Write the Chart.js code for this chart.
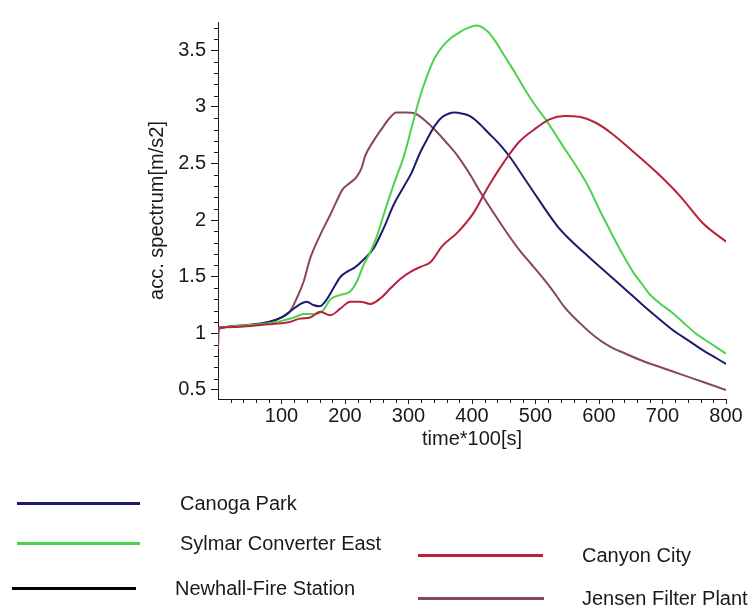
<!DOCTYPE html>
<html>
<head>
<meta charset="utf-8">
<script src="https://cdn.jsdelivr.net/npm/chart.js@4.4.1/dist/chart.umd.min.js"></script>
<style>
    html, body { margin: 0; padding: 0; background: #fff; }
    #wrap { position: relative; width: 751px; height: 609px; }
    #spectrumChart { position: absolute; left: 0; top: 0; }
    .legend-line { position: absolute; height: 3px; }
    .legend-text { position: absolute; font: 20px "Liberation Sans", Arial, sans-serif; color: #1a1a1a; white-space: nowrap; line-height: 24px; }
</style>
</head>
<body>
<div id="wrap">
    <canvas id="spectrumChart" width="751" height="609"></canvas>
    <div id="legend"></div>
</div>
<script>
// Station names and colours
var stations = ['Canoga Park', 'Sylmar Converter East', 'Newhall-Fire Station', 'Canyon City', 'Jensen Filter Plant'];
var stationColors = ['#1c1c6c', '#4cd24c', '#000000', '#b8203c', '#87475a'];

// Axis ticks
var xTicks = [100, 200, 300, 400, 500, 600, 700, 800];
var yTicks = [0.5, 1, 1.5, 2, 2.5, 3, 3.5];

// Canoga Park
var canogaX = [0, 40, 80, 100, 115, 130, 140, 150, 160, 170, 182, 193, 205, 215, 229, 245, 261, 277, 292, 305, 317, 329, 341, 353, 363, 372, 385, 396, 410, 426, 445, 462, 480, 498, 516, 534, 552, 571, 595, 619, 643, 667, 692, 716, 740, 764, 782, 800];
var canogaY = [1.05, 1.07, 1.10, 1.14, 1.20, 1.26, 1.28, 1.25, 1.24, 1.29, 1.40, 1.50, 1.55, 1.58, 1.65, 1.75, 1.93, 2.14, 2.29, 2.42, 2.58, 2.71, 2.83, 2.91, 2.94, 2.95, 2.94, 2.92, 2.86, 2.77, 2.66, 2.54, 2.39, 2.24, 2.09, 1.95, 1.84, 1.74, 1.62, 1.50, 1.38, 1.26, 1.14, 1.03, 0.94, 0.85, 0.79, 0.73];

// Sylmar Converter East
var sylmarX = [0, 40, 80, 100, 120, 135, 150, 165, 177, 193, 208, 219, 229, 240, 251, 261, 277, 293, 305, 317, 329, 341, 353, 365, 378, 390, 408, 426, 438, 450, 468, 486, 500, 516, 530, 546, 565, 583, 600, 619, 637, 655, 667, 679, 697, 716, 734, 752, 776, 800];
var sylmarY = [1.05, 1.07, 1.09, 1.11, 1.14, 1.17, 1.17, 1.20, 1.30, 1.34, 1.37, 1.46, 1.60, 1.72, 1.87, 2.05, 2.32, 2.57, 2.82, 3.07, 3.27, 3.43, 3.53, 3.60, 3.65, 3.69, 3.72, 3.66, 3.57, 3.46, 3.30, 3.13, 3.01, 2.89, 2.77, 2.63, 2.47, 2.30, 2.10, 1.89, 1.70, 1.53, 1.44, 1.35, 1.26, 1.18, 1.09, 1.00, 0.91, 0.82];

// Newhall-Fire Station (legend only)
var newhallX = [];
var newhallY = [];

// Canyon City
var canyonX = [0, 40, 80, 100, 113, 129, 145, 161, 177, 193, 208, 224, 240, 256, 272, 287, 305, 320, 335, 353, 377, 402, 426, 450, 474, 498, 522, 546, 571, 595, 619, 655, 691, 728, 764, 800];
var canyonY = [1.05, 1.06, 1.08, 1.09, 1.10, 1.13, 1.14, 1.19, 1.16, 1.22, 1.28, 1.28, 1.26, 1.31, 1.40, 1.48, 1.55, 1.59, 1.63, 1.77, 1.89, 2.06, 2.30, 2.51, 2.69, 2.80, 2.89, 2.92, 2.91, 2.86, 2.77, 2.60, 2.42, 2.21, 1.97, 1.81];

// Jensen Filter Plant
var jensenX = [0, 1.5, 40, 80, 100, 113, 124, 135, 145, 161, 177, 187, 196, 208, 218, 226, 232, 245, 257, 270, 281, 296, 311, 326, 341, 359, 377, 395, 414, 438, 456, 474, 492, 510, 528, 546, 570, 594, 618, 642, 667, 697, 728, 764, 800];
var jensenY = [0.86, 1.04, 1.07, 1.10, 1.14, 1.19, 1.31, 1.46, 1.66, 1.87, 2.05, 2.17, 2.27, 2.33, 2.38, 2.46, 2.57, 2.70, 2.80, 2.90, 2.95, 2.95, 2.94, 2.88, 2.80, 2.69, 2.57, 2.42, 2.24, 2.03, 1.88, 1.74, 1.62, 1.50, 1.37, 1.23, 1.09, 0.97, 0.88, 0.82, 0.76, 0.70, 0.64, 0.57, 0.50];

var seriesX = [canogaX, sylmarX, newhallX, canyonX, jensenX];
var seriesY = [canogaY, sylmarY, newhallY, canyonY, jensenY];

// Legend placement: two columns under the plot
var legendPos = [
    { lineLeft: 17, lineWidth: 123, textLeft: 180, y: 503 },
    { lineLeft: 17, lineWidth: 123, textLeft: 180, y: 543 },
    { lineLeft: 12, lineWidth: 124, textLeft: 175, y: 588 },
    { lineLeft: 418, lineWidth: 125, textLeft: 582, y: 555 },
    { lineLeft: 418, lineWidth: 126, textLeft: 582, y: 598 }
];

var axisColor = '#1a1a1a';
var fontFamily = '"Liberation Sans", Arial, sans-serif';

function toPoints(xs, ys) {
    return xs.map(function (x, i) { return { x: x, y: ys[i] }; });
}

// Short unlabelled ticks between the numbered ones
var minorTicks = {
    id: 'minorTicks',
    afterDraw: function (chart) {
        var ctx = chart.ctx;
        var xs = chart.scales.x, ys = chart.scales.y;
        var area = chart.chartArea;
        ctx.save();
        ctx.strokeStyle = axisColor;
        ctx.lineWidth = 1;
        ctx.beginPath();
        for (var v = 5; v <= 37; v++) {
            if (v % 5 === 0) continue;
            var py = Math.round(ys.getPixelForValue(v / 10)) + 0.5;
            ctx.moveTo(area.left - 4, py);
            ctx.lineTo(area.left, py);
        }
        for (var u = 20; u < 800; u += 20) {
            if (u % 100 === 0) continue;
            var px = Math.round(xs.getPixelForValue(u)) + 0.5;
            ctx.moveTo(px, area.bottom);
            ctx.lineTo(px, area.bottom + 4);
        }
        ctx.stroke();
        ctx.restore();
    }
};

function renderChart() {
    var datasets = stations.map(function (name, i) {
        return {
            label: name,
            data: toPoints(seriesX[i], seriesY[i]),
            borderColor: stationColors[i],
            borderWidth: 2,
            pointRadius: 0,
            fill: false,
            cubicInterpolationMode: 'monotone'
        };
    });
    // draw order: brown under the others, red on top
    var order = [4, 0, 1, 2, 3];
    datasets.forEach(function (ds, i) { ds.order = order.length - order.indexOf(i); });

    return new Chart(document.getElementById('spectrumChart'), {
        type: 'line',
        data: { datasets: datasets },
        options: {
            responsive: false,
            devicePixelRatio: 1,
            animation: false,
            layout: { padding: { top: 22, right: 25, left: 0, bottom: 150 } },
            plugins: { legend: { display: false }, tooltip: { enabled: false } },
            scales: {
                x: {
                    type: 'linear',
                    min: 0,
                    max: 800,
                    afterBuildTicks: function (scale) {
                        scale.ticks = xTicks.map(function (v) { return { value: v }; });
                    },
                    afterFit: function (scale) { scale.height = 60; },
                    border: { display: true, color: axisColor, width: 1 },
                    grid: { drawOnChartArea: false, drawTicks: true, tickLength: 5, color: axisColor },
                    ticks: {
                        color: axisColor, padding: 0, maxRotation: 0,
                        font: { family: fontFamily, size: 20 },
                        callback: function (v) { return String(v); }
                    },
                    title: { display: true, text: 'time*100[s]', color: axisColor, padding: { top: 0, bottom: 8 }, font: { family: fontFamily, size: 20 } }
                },
                y: {
                    min: 0.42,
                    max: 3.75,
                    afterBuildTicks: function (scale) {
                        scale.ticks = yTicks.map(function (v) { return { value: v }; });
                    },
                    afterFit: function (scale) { scale.width = 218; },
                    border: { display: true, color: axisColor, width: 1 },
                    grid: { drawOnChartArea: false, drawTicks: true, tickLength: 7, color: axisColor },
                    ticks: {
                        color: axisColor, padding: 5,
                        font: { family: fontFamily, size: 20 },
                        callback: function (v) { return String(v); }
                    },
                    title: { display: true, text: 'acc. spectrum[m/s2]', color: axisColor, padding: { top: 145, bottom: 0 }, font: { family: fontFamily, size: 20 } }
                }
            }
        },
        plugins: [minorTicks]
    });
}

// Legend built from the chart's datasets
function renderLegend(chart) {
    var box = document.getElementById('legend');
    chart.data.datasets.forEach(function (ds, i) {
        var p = legendPos[i];
        var line = document.createElement('div');
        line.className = 'legend-line';
        line.style.left = p.lineLeft + 'px';
        line.style.width = p.lineWidth + 'px';
        line.style.top = (p.y - 1.5) + 'px';
        line.style.background = ds.borderColor;
        var text = document.createElement('div');
        text.className = 'legend-text';
        text.style.left = p.textLeft + 'px';
        text.style.top = (p.y - 12) + 'px';
        text.textContent = ds.label;
        box.appendChild(line);
        box.appendChild(text);
    });
}

var spectrumChart = renderChart();
renderLegend(spectrumChart);
</script>
</body>
</html>
